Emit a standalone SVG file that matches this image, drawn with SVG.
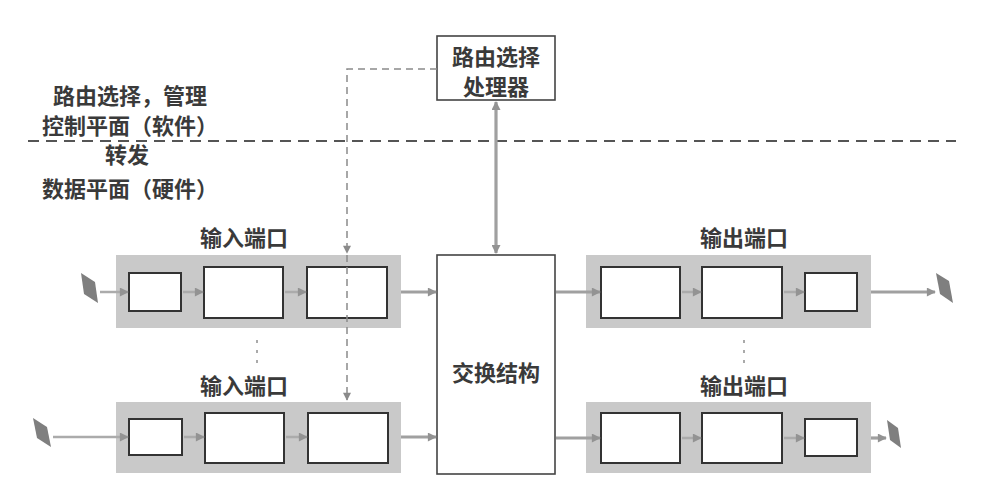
<svg xmlns="http://www.w3.org/2000/svg" width="1004" height="483" viewBox="0 0 1004 483">
<style>
text{font-family:"Noto Sans CJK SC","Noto Sans",sans-serif;font-weight:bold;fill:#3a3a3a;font-size:22px;text-anchor:middle}
.port{fill:#c9c9c9}
.box{fill:#fff;stroke:#333;stroke-width:2}
.big{fill:#fff;stroke:#444;stroke-width:1.6}
.flow{stroke:#a0a0a0;stroke-width:3.2;fill:none}
.short{stroke:#ababab;stroke-width:2.5;fill:none}
.dash{stroke:#8a8a8a;stroke-width:1.5;fill:none;stroke-dasharray:7 5}
.divider{stroke:#555;stroke-width:1.8;fill:none;stroke-dasharray:11 7}
.card{fill:#7f7f7f}
.dots{stroke:#aaa;stroke-width:2;stroke-dasharray:3 7}
</style>
<defs>
<marker id="ah" viewBox="0 0 10 10" refX="9" refY="5" markerWidth="10" markerHeight="9" markerUnits="userSpaceOnUse" orient="auto-start-reverse"><path d="M0,0 L10,5 L0,10 z" fill="#939393"/></marker>
<marker id="ahd" viewBox="0 0 10 10" refX="9" refY="5" markerWidth="9" markerHeight="8" markerUnits="userSpaceOnUse" orient="auto"><path d="M0,0 L10,5 L0,10 z" fill="#8a8a8a"/></marker>
</defs>

<g id="plane-labels">
<text x="130" y="104">路由选择，管理</text>
<text x="130" y="134">控制平面（软件）</text>
<text x="127" y="163">转发</text>
<text x="130" y="197">数据平面（硬件）</text>
</g>
<line class="divider" x1="28" y1="141" x2="956" y2="141"/>

<g id="processor">
<rect class="big" x="437" y="36" width="118" height="64"/>
<text x="496" y="65">路由选择</text>
<text x="496" y="95">处理器</text>
</g>

<g id="switch">
<rect class="big" x="437" y="255" width="118" height="219"/>
<text x="496" y="381">交换结构</text>
</g>

<g id="input-port-1">
<text x="244" y="246">输入端口</text>
<rect class="port" x="116" y="255" width="285" height="73"/>
<rect class="box" x="129" y="273" width="52" height="38"/>
<rect class="box" x="204" y="267" width="79" height="51"/>
<rect class="box" x="307" y="267" width="80" height="51"/>
<polygon class="card" points="81,273 95,282 98,303 84,294"/>
</g>

<g id="input-port-2">
<text x="244" y="394">输入端口</text>
<rect class="port" x="116" y="402" width="285" height="71"/>
<rect class="box" x="129" y="419" width="53" height="36"/>
<rect class="box" x="205" y="413" width="79" height="50"/>
<rect class="box" x="308" y="413" width="80" height="50"/>
<polygon class="card" points="33,418 47,427 51,447 37,438"/>
</g>

<g id="output-port-1">
<text x="744" y="246">输出端口</text>
<rect class="port" x="586" y="255" width="285" height="73"/>
<rect class="box" x="601" y="267" width="79" height="51"/>
<rect class="box" x="702" y="267" width="80" height="51"/>
<rect class="box" x="805" y="273" width="52" height="38"/>
<polygon class="card" points="936,273 949,281 953,303 940,294"/>
</g>

<g id="output-port-2">
<text x="744" y="394">输出端口</text>
<rect class="port" x="586" y="402" width="285" height="71"/>
<rect class="box" x="601" y="413" width="79" height="50"/>
<rect class="box" x="702" y="413" width="80" height="50"/>
<rect class="box" x="805" y="419" width="52" height="37"/>
<polygon class="card" points="887,420 898,428 901,448 890,440"/>
</g>

<g id="connectors">
<path class="dash" d="M437,69 H347 V253" marker-end="url(#ahd)"/>
<path class="dash" d="M347,255 V400" marker-end="url(#ahd)"/>
<line class="flow" x1="496" y1="102" x2="496" y2="253" marker-start="url(#ah)" marker-end="url(#ah)"/>

<line class="short" x1="100" y1="292" x2="128" y2="292" marker-end="url(#ah)"/>
<line class="short" x1="183" y1="292" x2="203" y2="292" marker-end="url(#ah)"/>
<line class="short" x1="285" y1="292" x2="306" y2="292" marker-end="url(#ah)"/>
<line class="flow" x1="401" y1="292" x2="436" y2="292" marker-end="url(#ah)"/>

<line class="short" x1="53" y1="437" x2="128" y2="437" marker-end="url(#ah)"/>
<line class="short" x1="184" y1="437" x2="204" y2="437" marker-end="url(#ah)"/>
<line class="short" x1="286" y1="437" x2="307" y2="437" marker-end="url(#ah)"/>
<line class="flow" x1="401" y1="437" x2="436" y2="437" marker-end="url(#ah)"/>

<line class="flow" x1="556" y1="292" x2="600" y2="292" marker-end="url(#ah)"/>
<line class="short" x1="682" y1="292" x2="701" y2="292" marker-end="url(#ah)"/>
<line class="short" x1="784" y1="292" x2="804" y2="292" marker-end="url(#ah)"/>
<line class="flow" x1="871" y1="292" x2="935" y2="292" marker-end="url(#ah)"/>

<line class="flow" x1="556" y1="438" x2="600" y2="438" marker-end="url(#ah)"/>
<line class="short" x1="682" y1="438" x2="701" y2="438" marker-end="url(#ah)"/>
<line class="short" x1="784" y1="438" x2="804" y2="438" marker-end="url(#ah)"/>
<line class="flow" x1="871" y1="438" x2="886" y2="438" marker-end="url(#ah)"/>

<line class="dots" x1="257" y1="340" x2="257" y2="366"/>
<line class="dots" x1="744" y1="340" x2="744" y2="366"/>
</g>
</svg>
